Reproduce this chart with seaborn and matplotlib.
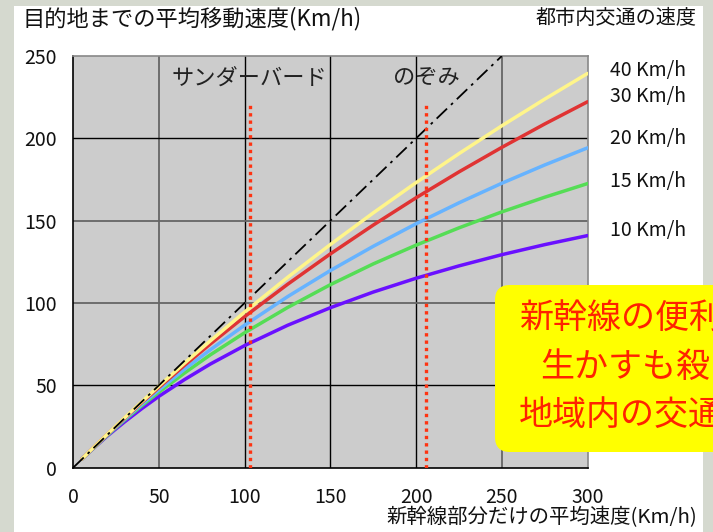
import pandas as pd
import matplotlib
matplotlib.use('Agg')
import matplotlib.pyplot as plt
from matplotlib.patches import FancyBboxPatch, Rectangle
import seaborn as sns

# Shinkansen section speed (km/h)
shinkansen_speed = [5, 10, 20, 30, 40, 50, 65, 80, 100, 125, 150, 175, 200, 225, 250, 275, 300]

# Average door-to-door speed for each city-transport speed
speed_10 = [5.1, 10.0, 19.3, 27.8, 35.8, 43.3, 53.5, 62.9, 74.1, 86.4, 97.1, 106.6, 115.0, 122.5, 129.3, 135.4, 140.9]
speed_15 = [5.1, 10.1, 19.7, 28.9, 37.6, 45.8, 57.5, 68.5, 81.9, 97.2, 111.1, 123.7, 135.1, 145.6, 155.3, 164.2, 172.5]
speed_20 = [5.2, 10.2, 20.0, 29.4, 38.5, 47.2, 59.8, 71.6, 86.5, 103.8, 119.7, 134.4, 148.1, 160.8, 172.7, 183.8, 194.2]
speed_30 = [5.2, 10.3, 20.3, 30.0, 39.5, 48.7, 62.2, 75.1, 91.7, 111.3, 129.8, 147.3, 163.9, 179.6, 194.5, 208.7, 222.2]
speed_40 = [5.2, 10.3, 20.4, 30.3, 40.0, 49.5, 63.5, 77.0, 94.5, 115.5, 135.5, 154.7, 173.1, 190.7, 207.6, 223.8, 239.4]

city_labels = ['10 Km/h', '15 Km/h', '20 Km/h', '30 Km/h', '40 Km/h']
city_colors = ['#6a10ff', '#55dd55', '#66b3ff', '#e03333', '#fff58a']

train_names = ['サンダーバード', 'のぞみ']
train_speeds = [103, 206]

diag_x = [0, 250]
diag_y = [0, 250]

x_ticks = [0, 50, 100, 150, 200, 250, 300]
y_ticks = [0, 50, 100, 150, 200, 250]

# callout text as far as it is visible in the slide
callout_lines = ['新幹線の便利', '生かすも殺', '地域内の交通']

rows = []
for label, vals in zip(city_labels, [speed_10, speed_15, speed_20, speed_30, speed_40]):
    for x, y in zip(shinkansen_speed, vals):
        rows.append({'x': x, 'y': y, 'city': label})
df = pd.DataFrame(rows)

sns.set_style('white')
plt.rcParams['font.family'] = ['Noto Sans CJK JP', 'DejaVu Sans']

fig = plt.figure(figsize=(7.13, 5.32), dpi=100)
fig.patch.set_facecolor('#d5d9cf')
# white slide area
fig.add_artist(Rectangle((0.14, 0.0), 6.89, 5.26, transform=fig.dpi_scale_trans,
                         facecolor='white', edgecolor='none', zorder=0))

ax = fig.add_axes([0.1028, 0.1212, 0.7212, 0.7735])
ax.set_facecolor('#cccccc')

# grid lines, some black and some grey as in the original
for xv, c in zip([50, 100, 150, 200, 250], ['#666666', 'black', 'black', 'black', '#666666']):
    ax.axvline(xv, color=c, lw=1.3 if c != 'black' else 1.0, zorder=1)
for yv, c in zip([50, 100, 150, 200], ['black', '#666666', '#666666', 'black']):
    ax.axhline(yv, color=c, lw=1.3 if c != 'black' else 1.0, zorder=1)

sns.lineplot(data=df, x='x', y='y', hue='city', hue_order=city_labels,
             palette=dict(zip(city_labels, city_colors)), linewidth=2.5,
             legend=False, ax=ax, zorder=3)

sns.lineplot(x=diag_x, y=diag_y, color='black', linewidth=1.3,
             dashes=False, ax=ax, zorder=4).lines[-1].set_dashes([8, 3, 1.5, 3])

ax.vlines(train_speeds, 0, 220, colors='#ff3311', linestyles=(0, (1, 1.2)),
          linewidth=2.4, zorder=5)
for name, xs in zip(train_names, train_speeds):
    ax.text(xs, 236.5, name, ha='center', va='center', fontsize=16, color='#222222', zorder=6)

ax.set_xlim(0, 300)
ax.set_ylim(0, 250)
ax.set_xticks(x_ticks)
ax.set_yticks(y_ticks)
ax.tick_params(length=0, labelsize=14, colors='#111111')
ax.tick_params(axis='y', pad=12)
ax.tick_params(axis='x', pad=14)
ax.set_xlabel('')
ax.set_ylabel('')
for s in ['left', 'bottom']:
    ax.spines[s].set_color('black')
    ax.spines[s].set_linewidth(1.2)
for s in ['top', 'right']:
    ax.spines[s].set_color('#888888')
    ax.spines[s].set_linewidth(1.2)

# line labels on the right
label_y = [0.5658, 0.6579, 0.7406, 0.8177, 0.8684]
for lab, fy in zip(city_labels, label_y):
    fig.text(0.8555, fy, lab, ha='left', va='center', fontsize=14, color='#111111')

fig.text(0.031, 0.966, '目的地までの平均移動速度(Km/h)', ha='left', va='center',
         fontsize=16, color='#111111')
fig.text(0.9776, 0.966, '都市内交通の速度', ha='right', va='center',
         fontsize=14.5, color='#111111')
fig.text(0.9776, 0.028, '新幹線部分だけの平均速度(Km/h)', ha='right', va='center',
         fontsize=14.7, color='#111111')

# yellow callout, running off the right edge
fig.add_artist(FancyBboxPatch((4.95, 0.80), 2.6, 1.67, transform=fig.dpi_scale_trans,
                              boxstyle='round,pad=0,rounding_size=0.15',
                              facecolor='#ffff00', edgecolor='none', zorder=10))
callout_pos = [(519, 318), (540, 368), (519, 415)]
for txt, (px, py) in zip(callout_lines, callout_pos):
    fig.text(px / 713, 1 - py / 532, txt, ha='left', va='center', fontsize=24.5,
             color='#ff2200', zorder=11)

fig.savefig('out.png', dpi=100)
